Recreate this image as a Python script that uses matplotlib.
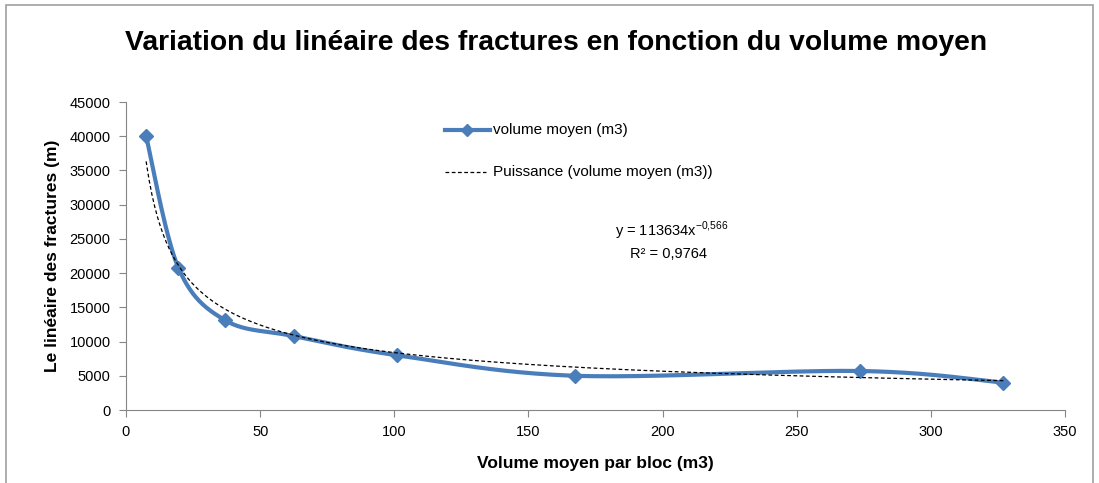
import numpy as np
import matplotlib
matplotlib.use("Agg")
import matplotlib.pyplot as plt
from matplotlib.patches import Rectangle

# volume moyen par bloc (m3) / linéaire des fractures (m)
volume = [7.5, 19.5, 37, 62.5, 101, 167.5, 273.5, 327]
lineaire = [40000, 20800, 13100, 10800, 8000, 5000, 5700, 4000]

# courbe de tendance (puissance) affichée par Excel
coef_a = 113634
coef_b = -0.566
r2 = 0.9764

xticks = [0, 50, 100, 150, 200, 250, 300, 350]
yticks = list(range(0, 45001, 5000))

plt.rcParams['font.family'] = ['Liberation Sans', 'DejaVu Sans']
plt.rcParams['axes.unicode_minus'] = False


def excel_smooth(x, y, n=40):
    # courbe lissée façon Excel (Bézier cardinal, tension 1/6)
    x = np.asarray(x, float)
    y = np.asarray(y, float)
    px, py = [], []
    for i in range(len(x) - 1):
        x0, y0 = (x[i - 1], y[i - 1]) if i > 0 else (x[i], y[i])
        x3, y3 = (x[i + 2], y[i + 2]) if i + 2 < len(x) else (x[i + 1], y[i + 1])
        c1x = x[i] + (x[i + 1] - x0) / 6
        c1y = y[i] + (y[i + 1] - y0) / 6
        c2x = x[i + 1] - (x3 - x[i]) / 6
        c2y = y[i + 1] - (y3 - y[i]) / 6
        t = np.linspace(0, 1, n)
        bx = (1 - t) ** 3 * x[i] + 3 * (1 - t) ** 2 * t * c1x + 3 * (1 - t) * t ** 2 * c2x + t ** 3 * x[i + 1]
        by = (1 - t) ** 3 * y[i] + 3 * (1 - t) ** 2 * t * c1y + 3 * (1 - t) * t ** 2 * c2y + t ** 3 * y[i + 1]
        px.extend(bx)
        py.extend(by)
    return np.array(px), np.array(py)


fig = plt.figure(figsize=(10.99, 4.83), dpi=100)
ax = fig.add_axes([126 / 1099, 1 - 410 / 483, (1065 - 126) / 1099, (410 - 102) / 483])

sx, sy = excel_smooth(volume, lineaire)
blue = '#4a7ebb'
ax.plot(sx, sy, color=blue, lw=3, zorder=3)
ax.plot(volume, lineaire, ls='none', marker='D', ms=7, color=blue, zorder=4)

xt = np.linspace(min(volume), max(volume), 300)
ax.plot(xt, coef_a * xt ** coef_b, color='black', ls=(0, (3, 2)), lw=0.9, zorder=5)

ax.set_xlim(0, 350)
ax.set_ylim(0, 45000)
ax.set_xticks(xticks)
ax.set_yticks(yticks)
ax.tick_params(labelsize=10.5, color='#868686', length=5, direction='out', pad=6)
for s in ['top', 'right']:
    ax.spines[s].set_visible(False)
for s in ['left', 'bottom']:
    ax.spines[s].set_color('#868686')

ax.set_xlabel('Volume moyen par bloc (m3)', fontsize=12.5, fontweight='bold', labelpad=12)
ax.set_ylabel('Le linéaire des fractures (m)', fontsize=12.5, fontweight='bold', labelpad=7)
fig.text(556 / 1099, 1 - 43 / 483, 'Variation du linéaire des fractures en fonction du volume moyen',
         ha='center', va='center', fontsize=20.3, fontweight='bold')

# légende
fig.lines.append(plt.Line2D([445 / 1099, 467 / 1099, 490 / 1099], [1 - 130 / 483] * 3, color=blue, lw=3,
                            marker='D', ms=6, markevery=[1], transform=fig.transFigure))
fig.lines.append(plt.Line2D([445 / 1099, 486 / 1099], [1 - 172 / 483] * 2, color='black', lw=0.9,
                            ls=(0, (3, 2)), transform=fig.transFigure))
fig.text(493 / 1099, 1 - 130 / 483, 'volume moyen (m3)', fontsize=11, va='center')
fig.text(493 / 1099, 1 - 172 / 483, 'Puissance (volume moyen (m3))', fontsize=11, va='center')

fig.text(672 / 1099, 1 - 231 / 483, 'y = %d' % coef_a + r'x$^{\mathregular{%s}}$' % str(coef_b).replace('.', '{,}'),
         fontsize=10.5, ha='center', va='center')
fig.text(668 / 1099, 1 - 254 / 483, 'R² = ' + str(r2).replace('.', ','), fontsize=10.5, ha='center', va='center')

fig.patches.append(Rectangle((6 / 1099, -0.05), (1093 - 6) / 1099, 1 - 5 / 483 + 0.05,
                             fill=False, edgecolor='#a0a0a0', lw=1.2, transform=fig.transFigure))

fig.savefig('out.png', dpi=100)
